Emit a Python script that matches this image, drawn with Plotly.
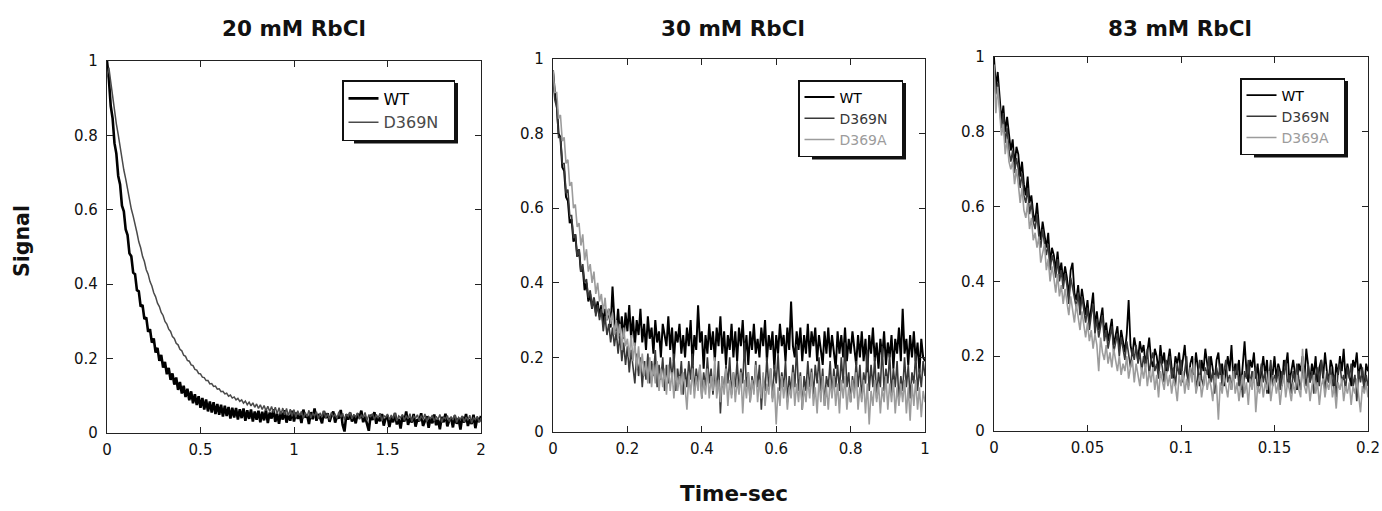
import plotly.graph_objects as go

# ---------------- data ----------------
panel_titles = ["20 mM RbCl", "30 mM RbCl", "83 mM RbCl"]
x_tick_step = [0.5, 0.2, 0.05]
x_max = [2.0, 1.0, 0.2]

# sampling grids (seconds)
t_20mM = [round(0.01 * i, 4) for i in range(201)]
t_30mM = [round(0.005 * i, 4) for i in range(201)]
t_83mM = [round(0.001 * i, 4) for i in range(201)]

wt_20mM = [
    1.000, 0.951, 0.879, 0.846, 0.779, 0.751, 0.691, 0.668, 0.611, 0.596,
    0.547, 0.532, 0.483, 0.475, 0.431, 0.427, 0.384, 0.381, 0.340, 0.344,
    0.306, 0.311, 0.272, 0.279, 0.243, 0.254, 0.216, 0.229, 0.194, 0.210,
    0.176, 0.191, 0.158, 0.175, 0.143, 0.160, 0.130, 0.149, 0.116, 0.137,
    0.106, 0.127, 0.097, 0.119, 0.088, 0.112, 0.080, 0.104, 0.075, 0.099,
    0.068, 0.094, 0.063, 0.090, 0.058, 0.085, 0.055, 0.083, 0.051, 0.078,
    0.049, 0.076, 0.044, 0.073, 0.046, 0.070, 0.039, 0.068, 0.042, 0.067,
    0.036, 0.064, 0.040, 0.066, 0.033, 0.061, 0.038, 0.063, 0.031, 0.058,
    0.036, 0.060, 0.029, 0.057, 0.034, 0.062, 0.027, 0.055, 0.039, 0.064,
    0.030, 0.052, 0.025, 0.058, 0.036, 0.061, 0.028, 0.049, 0.033, 0.060,
    0.031, 0.055, 0.038, 0.050, 0.027, 0.063, 0.042, 0.049, 0.024, 0.056,
    0.037, 0.066, 0.033, 0.051, 0.041, 0.026, 0.059, 0.040, 0.053, 0.030,
    0.047, 0.058, 0.028, 0.045, 0.039, 0.062, 0.022, 0.004, 0.050, 0.036,
    0.055, 0.031, 0.046, 0.026, 0.052, 0.040, 0.060, 0.029, 0.044, 0.021,
    0.006, 0.049, 0.035, 0.056, 0.025, 0.043, 0.032, 0.051, 0.020, 0.039,
    0.047, 0.016, 0.042, 0.029, 0.054, 0.023, 0.038, 0.012, 0.046, 0.031,
    0.058, 0.022, 0.041, 0.028, 0.051, 0.017, 0.037, 0.032, 0.053, 0.019,
    0.035, 0.045, 0.014, 0.040, 0.026, 0.050, 0.021, 0.036, 0.010, 0.043,
    0.029, 0.052, 0.018, 0.034, 0.041, 0.015, 0.047, 0.025, 0.039, 0.009,
    0.044, 0.028, 0.051, 0.019, 0.037, 0.024, 0.049, 0.013, 0.041, 0.030,
    0.046,
]
d369n_20mM = [
    0.960, 0.982, 0.944, 0.901, 0.869, 0.831, 0.802, 0.766, 0.740, 0.707,
    0.683, 0.652, 0.631, 0.602, 0.583, 0.556, 0.539, 0.514, 0.498, 0.475,
    0.461, 0.439, 0.427, 0.407, 0.395, 0.377, 0.366, 0.349, 0.340, 0.324,
    0.316, 0.300, 0.293, 0.279, 0.273, 0.259, 0.254, 0.241, 0.237, 0.225,
    0.221, 0.209, 0.206, 0.195, 0.193, 0.183, 0.181, 0.171, 0.169, 0.160,
    0.159, 0.150, 0.149, 0.141, 0.141, 0.132, 0.133, 0.125, 0.126, 0.118,
    0.119, 0.111, 0.112, 0.105, 0.107, 0.099, 0.102, 0.094, 0.097, 0.089,
    0.093, 0.085, 0.089, 0.080, 0.086, 0.076, 0.083, 0.073, 0.081, 0.069,
    0.078, 0.066, 0.076, 0.063, 0.074, 0.060, 0.072, 0.058, 0.071, 0.055,
    0.069, 0.052, 0.068, 0.050, 0.067, 0.049, 0.066, 0.046, 0.064, 0.045,
    0.063, 0.042, 0.060, 0.047, 0.058, 0.039, 0.055, 0.044, 0.061, 0.040,
    0.053, 0.046, 0.057, 0.038, 0.054, 0.043, 0.059, 0.041, 0.052, 0.036,
    0.055, 0.044, 0.050, 0.039, 0.057, 0.042, 0.053, 0.035, 0.051, 0.045,
    0.056, 0.038, 0.050, 0.043, 0.054, 0.037, 0.049, 0.041, 0.055, 0.034,
    0.048, 0.044, 0.052, 0.036, 0.050, 0.040, 0.053, 0.033, 0.047, 0.042,
    0.051, 0.035, 0.048, 0.039, 0.054, 0.032, 0.046, 0.041, 0.050, 0.034,
    0.047, 0.038, 0.052, 0.031, 0.045, 0.040, 0.049, 0.033, 0.046, 0.037,
    0.051, 0.030, 0.044, 0.039, 0.048, 0.032, 0.045, 0.036, 0.050, 0.029,
    0.043, 0.038, 0.047, 0.031, 0.044, 0.035, 0.049, 0.028, 0.042, 0.037,
    0.046, 0.030, 0.043, 0.034, 0.048, 0.027, 0.041, 0.036, 0.045, 0.029,
    0.040,
]

wt_30mM = [
    0.97, 0.91, 0.88, 0.80, 0.79, 0.71, 0.70, 0.63, 0.62, 0.56,
    0.57, 0.51, 0.53, 0.47, 0.49, 0.43, 0.44, 0.38, 0.40, 0.35,
    0.37, 0.33, 0.36, 0.32, 0.35, 0.31, 0.34, 0.29, 0.33, 0.30,
    0.33, 0.28, 0.39, 0.30, 0.27, 0.33, 0.26, 0.31, 0.25, 0.32,
    0.27, 0.34, 0.25, 0.31, 0.23, 0.30, 0.26, 0.33, 0.24, 0.29,
    0.22, 0.31, 0.25, 0.28, 0.21, 0.30, 0.24, 0.27, 0.20, 0.29,
    0.26, 0.23, 0.31, 0.22, 0.28, 0.19, 0.27, 0.24, 0.29, 0.21,
    0.26, 0.20, 0.28, 0.23, 0.30, 0.18, 0.26, 0.22, 0.34, 0.24,
    0.27, 0.17, 0.26, 0.21, 0.29, 0.22, 0.27, 0.19, 0.28, 0.23,
    0.31, 0.21, 0.27, 0.18, 0.26, 0.22, 0.29, 0.20, 0.27, 0.19,
    0.28, 0.23, 0.30, 0.20, 0.26, 0.18, 0.27, 0.22, 0.29, 0.21,
    0.25, 0.20, 0.28, 0.23, 0.30, 0.19, 0.26, 0.22, 0.27, 0.17,
    0.26, 0.21, 0.29, 0.23, 0.26, 0.19, 0.28, 0.22, 0.35, 0.23,
    0.20, 0.27, 0.22, 0.28, 0.19, 0.26, 0.21, 0.29, 0.20, 0.27,
    0.23, 0.28, 0.19, 0.26, 0.22, 0.18, 0.27, 0.21, 0.28, 0.20,
    0.26, 0.22, 0.17, 0.27, 0.21, 0.26, 0.20, 0.28, 0.19, 0.25,
    0.21, 0.27, 0.22, 0.18, 0.26, 0.20, 0.27, 0.19, 0.25, 0.16,
    0.26, 0.21, 0.28, 0.19, 0.24, 0.17, 0.25, 0.20, 0.27, 0.18,
    0.24, 0.20, 0.26, 0.17, 0.25, 0.21, 0.28, 0.19, 0.33, 0.21,
    0.25, 0.18, 0.26, 0.20, 0.27, 0.19, 0.24, 0.16, 0.25, 0.20,
    0.19,
]
d369n_30mM = [
    0.95, 0.89, 0.87, 0.79, 0.79, 0.72, 0.72, 0.64, 0.65, 0.58,
    0.58, 0.52, 0.53, 0.47, 0.49, 0.43, 0.45, 0.40, 0.41, 0.36,
    0.38, 0.33, 0.36, 0.31, 0.34, 0.30, 0.33, 0.27, 0.31, 0.26,
    0.29, 0.24, 0.28, 0.23, 0.27, 0.21, 0.26, 0.19, 0.24, 0.18,
    0.23, 0.16, 0.22, 0.17, 0.13, 0.21, 0.15, 0.20, 0.12, 0.19,
    0.14, 0.21, 0.13, 0.19, 0.15, 0.22, 0.12, 0.18, 0.14, 0.20,
    0.11, 0.18, 0.13, 0.20, 0.14, 0.21, 0.11, 0.17, 0.13, 0.19,
    0.10, 0.17, 0.12, 0.19, 0.14, 0.21, 0.11, 0.17, 0.13, 0.18,
    0.09, 0.16, 0.12, 0.20, 0.13, 0.17, 0.10, 0.16, 0.12, 0.19,
    0.05, 0.15, 0.11, 0.18, 0.13, 0.20, 0.10, 0.16, 0.12, 0.19,
    0.11, 0.17, 0.13, 0.24, 0.12, 0.16, 0.08, 0.15, 0.11, 0.19,
    0.12, 0.18, 0.06, 0.15, 0.11, 0.20, 0.12, 0.17, 0.09, 0.18,
    0.13, 0.21, 0.11, 0.16, 0.12, 0.19, 0.08, 0.15, 0.11, 0.18,
    0.12, 0.23, 0.11, 0.16, 0.06, 0.15, 0.11, 0.19, 0.12, 0.17,
    0.10, 0.18, 0.13, 0.20, 0.11, 0.17, 0.07, 0.15, 0.12, 0.19,
    0.10, 0.17, 0.12, 0.18, 0.11, 0.20, 0.13, 0.24, 0.12, 0.16,
    0.08, 0.15, 0.11, 0.19, 0.12, 0.18, 0.09, 0.16, 0.13, 0.22,
    0.11, 0.18, 0.12, 0.20, 0.09, 0.16, 0.12, 0.23, 0.11, 0.17,
    0.13, 0.21, 0.10, 0.17, 0.12, 0.19, 0.08, 0.15, 0.11, 0.20,
    0.12, 0.18, 0.09, 0.16, 0.13, 0.21, 0.11, 0.17, 0.12, 0.19,
    0.15,
]
d369a_30mM = [
    0.97, 0.91, 0.91, 0.84, 0.85, 0.78, 0.79, 0.72, 0.73, 0.66,
    0.67, 0.60, 0.61, 0.55, 0.56, 0.50, 0.53, 0.46, 0.49, 0.43,
    0.45, 0.40, 0.43, 0.37, 0.40, 0.35, 0.37, 0.32, 0.36, 0.30,
    0.33, 0.29, 0.32, 0.26, 0.30, 0.25, 0.29, 0.22, 0.28, 0.23,
    0.25, 0.20, 0.26, 0.19, 0.24, 0.17, 0.23, 0.16, 0.21, 0.15,
    0.19, 0.13, 0.20, 0.12, 0.18, 0.13, 0.19, 0.11, 0.17, 0.12,
    0.17, 0.10, 0.18, 0.11, 0.16, 0.09, 0.17, 0.11, 0.15, 0.10,
    0.16, 0.12, 0.06, 0.15, 0.10, 0.17, 0.09, 0.15, 0.11, 0.18,
    0.09, 0.14, 0.10, 0.17, 0.09, 0.15, 0.11, 0.20, 0.09, 0.14,
    0.08, 0.15, 0.10, 0.17, 0.07, 0.14, 0.09, 0.16, 0.08, 0.14,
    0.10, 0.16, 0.05, 0.14, 0.09, 0.16, 0.08, 0.14, 0.10, 0.18,
    0.08, 0.14, 0.09, 0.16, 0.07, 0.13, 0.10, 0.17, 0.08, 0.13,
    0.02, 0.12, 0.07, 0.15, 0.09, 0.14, 0.06, 0.12, 0.09, 0.16,
    0.07, 0.13, 0.08, 0.15, 0.06, 0.12, 0.08, 0.14, 0.09, 0.16,
    0.07, 0.12, 0.05, 0.14, 0.08, 0.15, 0.07, 0.12, 0.06, 0.14,
    0.09, 0.15, 0.07, 0.13, 0.05, 0.14, 0.09, 0.15, 0.06, 0.12,
    0.08, 0.14, 0.09, 0.16, 0.06, 0.12, 0.08, 0.14, 0.05, 0.13,
    0.02, 0.11, 0.07, 0.14, 0.08, 0.13, 0.05, 0.12, 0.08, 0.15,
    0.06, 0.13, 0.08, 0.14, 0.05, 0.12, 0.07, 0.13, 0.08, 0.14,
    0.05, 0.12, 0.03, 0.13, 0.07, 0.14, 0.06, 0.12, 0.04, 0.11,
    0.08,
]

wt_83mM = [
    1.00, 0.92, 0.96, 0.90, 0.83, 0.87, 0.80, 0.84, 0.79, 0.75,
    0.78, 0.71, 0.76, 0.74, 0.68, 0.72, 0.66, 0.63, 0.68, 0.61,
    0.63, 0.58, 0.56, 0.61, 0.55, 0.51, 0.56, 0.52, 0.49, 0.53,
    0.45, 0.49, 0.47, 0.43, 0.48, 0.42, 0.45, 0.40, 0.44, 0.41,
    0.36, 0.43, 0.45, 0.37, 0.35, 0.39, 0.33, 0.38, 0.34, 0.31,
    0.35, 0.29, 0.33, 0.37, 0.28, 0.32, 0.27, 0.30, 0.33, 0.26,
    0.29, 0.24, 0.27, 0.30, 0.23, 0.26, 0.28, 0.22, 0.27, 0.24,
    0.21, 0.26, 0.35, 0.23, 0.20, 0.25, 0.22, 0.19, 0.24, 0.21,
    0.23, 0.18, 0.21, 0.25, 0.19, 0.17, 0.22, 0.20, 0.16, 0.23,
    0.18, 0.21, 0.15, 0.19, 0.22, 0.17, 0.14, 0.20, 0.18, 0.21,
    0.15, 0.19, 0.23, 0.16, 0.13, 0.18, 0.20, 0.15, 0.21, 0.17,
    0.12, 0.19, 0.16, 0.22, 0.18, 0.14, 0.20, 0.17, 0.13, 0.19,
    0.21, 0.15, 0.18, 0.12, 0.17, 0.20, 0.16, 0.23, 0.14, 0.18,
    0.15, 0.19, 0.11, 0.17, 0.24, 0.16, 0.13, 0.19, 0.17, 0.21,
    0.14, 0.18, 0.12, 0.16, 0.20, 0.15, 0.19, 0.10, 0.17, 0.15,
    0.20, 0.14, 0.18, 0.16, 0.12, 0.19, 0.17, 0.21, 0.13, 0.16,
    0.19, 0.15, 0.11, 0.18, 0.16, 0.20, 0.14, 0.22, 0.17, 0.13,
    0.18, 0.15, 0.20, 0.12, 0.17, 0.19, 0.14, 0.21, 0.16, 0.13,
    0.19, 0.17, 0.11, 0.18, 0.15, 0.20, 0.16, 0.22, 0.14, 0.18,
    0.15, 0.12, 0.19, 0.17, 0.21, 0.14, 0.18, 0.16, 0.11, 0.18,
    0.16,
]
d369n_83mM = [
    0.97, 0.90, 0.93, 0.87, 0.81, 0.85, 0.77, 0.81, 0.75, 0.72,
    0.75, 0.69, 0.73, 0.70, 0.65, 0.69, 0.63, 0.61, 0.65, 0.58,
    0.61, 0.56, 0.54, 0.58, 0.52, 0.49, 0.54, 0.50, 0.47, 0.50,
    0.43, 0.47, 0.45, 0.41, 0.46, 0.40, 0.43, 0.38, 0.42, 0.39,
    0.34, 0.41, 0.38, 0.35, 0.33, 0.37, 0.31, 0.36, 0.32, 0.29,
    0.33, 0.27, 0.31, 0.34, 0.26, 0.30, 0.25, 0.28, 0.31, 0.24,
    0.27, 0.22, 0.25, 0.28, 0.21, 0.24, 0.26, 0.20, 0.25, 0.22,
    0.19, 0.24, 0.21, 0.17, 0.22, 0.19, 0.23, 0.18, 0.21, 0.16,
    0.20, 0.17, 0.22, 0.15, 0.19, 0.21, 0.16, 0.18, 0.14, 0.20,
    0.17, 0.13, 0.19, 0.16, 0.20, 0.14, 0.17, 0.12, 0.18, 0.15,
    0.19, 0.13, 0.16, 0.20, 0.12, 0.17, 0.15, 0.18, 0.11, 0.16,
    0.19, 0.14, 0.12, 0.17, 0.15, 0.20, 0.13, 0.16, 0.10, 0.17,
    0.14, 0.18, 0.12, 0.16, 0.19, 0.13, 0.15, 0.11, 0.17, 0.14,
    0.18, 0.12, 0.15, 0.09, 0.16, 0.14, 0.19, 0.12, 0.16, 0.13,
    0.17, 0.11, 0.15, 0.18, 0.13, 0.16, 0.10, 0.15, 0.19, 0.12,
    0.15, 0.13, 0.17, 0.11, 0.16, 0.14, 0.19, 0.12, 0.15, 0.10,
    0.16, 0.13, 0.18, 0.14, 0.11, 0.17, 0.15, 0.12, 0.18, 0.13,
    0.16, 0.10, 0.15, 0.17, 0.12, 0.19, 0.14, 0.11, 0.16, 0.13,
    0.17, 0.12, 0.15, 0.09, 0.16, 0.18, 0.13, 0.15, 0.11, 0.17,
    0.14, 0.18, 0.12, 0.15, 0.08, 0.16, 0.13, 0.17, 0.11, 0.15,
    0.12,
]
d369a_83mM = [
    0.98, 0.85, 0.92, 0.84, 0.79, 0.82, 0.74, 0.78, 0.72, 0.70,
    0.72, 0.66, 0.70, 0.66, 0.61, 0.65, 0.59, 0.57, 0.61, 0.54,
    0.57, 0.51, 0.53, 0.49, 0.52, 0.45, 0.48, 0.50, 0.43, 0.46,
    0.40, 0.44, 0.41, 0.37, 0.42, 0.36, 0.39, 0.34, 0.38, 0.35,
    0.31, 0.36, 0.33, 0.29, 0.34, 0.30, 0.27, 0.32, 0.28, 0.25,
    0.29, 0.24, 0.27, 0.22, 0.26, 0.23, 0.16, 0.25, 0.21, 0.19,
    0.23, 0.18, 0.21, 0.17, 0.22, 0.19, 0.16, 0.20, 0.15, 0.18,
    0.16, 0.20, 0.14, 0.17, 0.19, 0.13, 0.18, 0.15, 0.12, 0.17,
    0.14, 0.18, 0.12, 0.16, 0.13, 0.17, 0.11, 0.15, 0.09, 0.16,
    0.13, 0.11, 0.16, 0.12, 0.15, 0.10, 0.14, 0.12, 0.08, 0.15,
    0.12, 0.16, 0.10, 0.14, 0.11, 0.17, 0.13, 0.19, 0.10, 0.13,
    0.15, 0.09, 0.13, 0.16, 0.11, 0.14, 0.12, 0.08, 0.15, 0.12,
    0.03, 0.13, 0.10, 0.15, 0.12, 0.09, 0.14, 0.11, 0.16, 0.10,
    0.13, 0.08, 0.12, 0.15, 0.10, 0.13, 0.07, 0.14, 0.11, 0.16,
    0.05, 0.12, 0.10, 0.14, 0.09, 0.13, 0.11, 0.16, 0.08, 0.12,
    0.14, 0.10, 0.13, 0.07, 0.12, 0.15, 0.09, 0.13, 0.11, 0.08,
    0.13, 0.10, 0.15, 0.11, 0.09, 0.22, 0.12, 0.10, 0.14, 0.08,
    0.12, 0.15, 0.10, 0.13, 0.07, 0.12, 0.14, 0.09, 0.13, 0.11,
    0.15, 0.09, 0.12, 0.06, 0.13, 0.11, 0.14, 0.08, 0.12, 0.10,
    0.13, 0.07, 0.12, 0.10, 0.14, 0.09, 0.05, 0.12, 0.10, 0.13,
    0.09,
]

# ---------------- styling ----------------
W, H = 1382, 511
C_WT, C_N1, C_N, C_A = "#000000", "#4a4a4a", "#383838", "#9c9c9c"
FONT = "DejaVu Sans"
PAD = "\u00a0\u00a0"

def fx(px):
    return px / W

def fy(py):
    return 1 - py / H

# plot-area boxes in pixels: (left, right, top, bottom)
boxes = [(107, 481, 61, 433), (553, 925, 59, 432), (994, 1368, 57, 431)]

fig = go.Figure()

series = [
    (t_20mM, wt_20mM, "WT", C_WT, 2.6, 1),
    (t_20mM, d369n_20mM, "D369N", C_N1, 1.5, 1),
    (t_30mM, wt_30mM, "WT", C_WT, 2.0, 2),
    (t_30mM, d369n_30mM, "D369N", C_N, 1.6, 2),
    (t_30mM, d369a_30mM, "D369A", C_A, 1.6, 2),
    (t_83mM, wt_83mM, "WT", C_WT, 1.8, 3),
    (t_83mM, d369n_83mM, "D369N", C_N, 1.6, 3),
    (t_83mM, d369a_83mM, "D369A", C_A, 1.6, 3),
]

def ax_sfx(k):
    return "" if k == 1 else str(k)

for x, y, name, color, width, k in series:
    fig.add_trace(go.Scatter(
        x=x, y=y, mode="lines", name=f'<span style="color:{color}">{name}</span>' + PAD,
        line=dict(color=color, width=width),
        xaxis="x" + ax_sfx(k), yaxis="y" + ax_sfx(k), legend="legend" + ax_sfx(k),
    ))

axis_common = dict(
    showline=True, linecolor="#222", linewidth=1.2, mirror="ticks",
    ticks="inside", ticklen=6, tickwidth=1, tickcolor="#222",
    showgrid=False, zeroline=False, automargin=False,
    tickfont=dict(family=FONT, size=15, color="#111"),
)

layout = dict(
    width=W, height=H, margin=dict(l=0, r=0, t=0, b=0, autoexpand=False),
    paper_bgcolor="white", plot_bgcolor="rgba(0,0,0,0)", showlegend=True,
)
for i, (l, r, t, b) in enumerate(boxes):
    sfx = ax_sfx(i + 1)
    layout["xaxis" + sfx] = dict(axis_common, domain=[fx(l), fx(r)], range=[0, x_max[i]],
                                 dtick=x_tick_step[i], tick0=0, anchor="y" + sfx,
                                 ticklabelstandoff=3)
    layout["yaxis" + sfx] = dict(axis_common, domain=[fy(b), fy(t)], range=[0, 1],
                                 dtick=0.2, tick0=0, anchor="x" + sfx,
                                 ticklabelstandoff=5)

# legend frames: right edge / top edge in pixels, font size, approx. frame width / height
legend_spec = [(455, 80, 16, 104, 60.6), (903, 80, 14, 94, 76.6), (1345, 78, 14, 94, 76.6)]
shapes = []
for i, (r, t, fs, w, h) in enumerate(legend_spec):
    layout["legend" + ax_sfx(i + 1)] = dict(
        xanchor="right", yanchor="top", x=fx(r), y=fy(t),
        borderwidth=1.5, bordercolor="#111", bgcolor="white", tracegroupgap=0,
        itemclick=False, itemdoubleclick=False,
        font=dict(family=FONT, size=fs, color="#111"))
    # drop shadow of the legend frame (offset 3 px right / down)
    shapes.append(dict(type="rect", xref="paper", yref="paper", layer="below",
                       x0=fx(r + 3 - w), x1=fx(r + 3), y0=fy(t + h + 3), y1=fy(t + 3),
                       fillcolor="#111", line=dict(width=0)))
layout["shapes"] = shapes

fig.update_layout(**layout)

# panel titles and shared axis titles
title_x = [294, 733, 1180]
for i, txt in enumerate(panel_titles):
    fig.add_annotation(text=f"<b>{txt}</b>", x=fx(title_x[i]), y=fy(28), xref="paper", yref="paper",
                       showarrow=False, font=dict(family=FONT, size=21.5, color="#111"),
                       xanchor="center", yanchor="middle")
fig.add_annotation(text="<b>Signal</b>", x=fx(22), y=fy(241), xref="paper", yref="paper",
                   showarrow=False, textangle=-90, font=dict(family=FONT, size=20.5, color="#111"),
                   xanchor="center", yanchor="middle")
fig.add_annotation(text="<b>Time-sec</b>", x=fx(734), y=fy(493), xref="paper", yref="paper",
                   showarrow=False, font=dict(family=FONT, size=21.5, color="#111"),
                   xanchor="center", yanchor="middle")

fig.write_html(
    "out.html",
    config={"displayModeBar": False},
    post_script="document.body.style.margin='0px'; document.body.style.overflow='hidden';",
)
